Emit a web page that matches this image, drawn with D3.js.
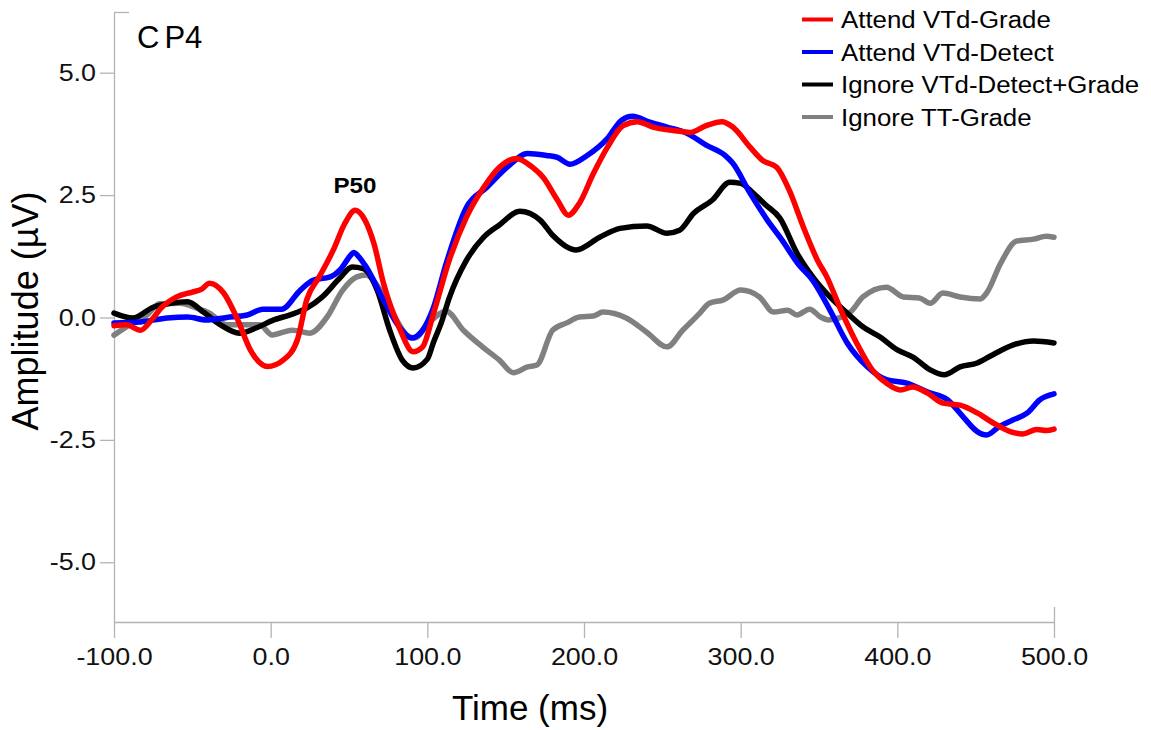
<!DOCTYPE html>
<html>
<head>
<meta charset="utf-8">
<script src="https://cdn.jsdelivr.net/npm/d3@7"></script>
<style>
  html, body { margin: 0; padding: 0; background: #fff; }
  svg { display: block; font-family: "Liberation Sans", Arial, sans-serif; }
</style>
</head>
<body>
<svg id="chart" width="1151" height="730"></svg>
<script>
// ---- data (time in ms, amplitude in µV) ----
const seriesNames = ["Attend VTd-Grade", "Attend VTd-Detect", "Ignore VTd-Detect+Grade", "Ignore TT-Grade"];
const seriesColors = ["#ff0000", "#0000ff", "#000000", "#808080"];

const attendGrade = [[-100,-0.17],[-92,-0.15],[-83,-0.26],[-76,-0.05],[-70,0.19],[-60,0.42],[-50,0.52],[-44,0.58],[-39,0.70],[-30,0.5],[-21,-0.05],[-13,-0.66],[-2,-1.0],[8,-0.87],[17,-0.46],[23,0.36],[31,0.83],[40,1.38],[47,1.9],[54,2.19],[60,2.0],[66,1.5],[72,0.70],[82,-0.2],[91,-0.70],[97,-0.6],[104,0.09],[114,1.17],[125,2.05],[136,2.66],[146,3.07],[157,3.25],[167,3.07],[174,2.86],[183,2.40],[190,2.09],[197,2.33],[206,2.94],[215,3.48],[225,3.92],[234,4.0],[244,3.89],[257,3.82],[268,3.78],[278,3.92],[288,4.0],[295,3.89],[306,3.48],[314,3.21],[323,3.07],[331,2.6],[340,1.85],[349,1.17],[355,0.83],[364,0.15],[374,-0.52],[384,-1.07],[393,-1.34],[402,-1.48],[410,-1.42],[419,-1.54],[429,-1.75],[440,-1.79],[451,-1.95],[461,-2.15],[472,-2.33],[480,-2.38],[489,-2.29],[495,-2.31],[500,-2.28]];

const attendDetect = [[-100,-0.11],[-83,-0.09],[-66,-0.01],[-53,0.01],[-41,-0.05],[-28,0],[-15,0.05],[-5,0.17],[7,0.17],[19,0.56],[27,0.76],[38,0.83],[45,1.0],[51,1.27],[53,1.33],[56,1.25],[61,1.03],[72,0.36],[82,-0.19],[90,-0.42],[97,-0.26],[104,0.21],[112,1.1],[125,2.25],[138,2.66],[151,3.07],[164,3.35],[176,3.31],[183,3.27],[191,3.13],[202,3.31],[215,3.66],[224,4.03],[231,4.11],[242,3.99],[253,3.89],[266,3.76],[278,3.52],[290,3.31],[295,3.15],[306,2.54],[317,1.99],[326,1.6],[337,1.08],[346,0.76],[357,0.15],[368,-0.52],[381,-1.01],[393,-1.27],[406,-1.34],[419,-1.52],[432,-1.68],[442,-2.03],[451,-2.33],[457,-2.40],[465,-2.23],[474,-2.09],[483,-1.95],[491,-1.68],[500,-1.56]];

const ignoreDetectGrade = [[-100,0.09],[-88,-0.01],[-75,0.21],[-64,0.29],[-53,0.32],[-43,0.11],[-32,-0.15],[-20,-0.32],[-9,-0.21],[2,-0.05],[12,0.05],[23,0.19],[33,0.42],[44,0.8],[52,1.03],[59,1.0],[68,0.56],[76,-0.26],[84,-0.87],[91,-1.03],[100,-0.85],[104,-0.5],[109,-0.1],[114,0.4],[125,1.17],[136,1.64],[146,1.89],[159,2.17],[172,1.99],[180,1.68],[195,1.38],[210,1.64],[223,1.82],[240,1.87],[253,1.72],[261,1.78],[270,2.13],[282,2.40],[293,2.76],[300,2.74],[308,2.54],[316,2.3],[325,2.03],[336,1.31],[346,0.83],[357,0.42],[368,0.09],[378,-0.19],[389,-0.40],[400,-0.66],[410,-0.81],[421,-1.07],[430,-1.17],[440,-1.01],[451,-0.93],[461,-0.76],[474,-0.56],[487,-0.48],[500,-0.52]];

const ignoreTTGrade = [[-100,-0.36],[-88,-0.11],[-79,0.05],[-71,0.28],[-58,0.29],[-47,0.19],[-39,0.09],[-28,-0.15],[-18,-0.15],[-7,-0.15],[1,-0.36],[8,-0.3],[14,-0.26],[25,-0.32],[36,0.01],[46,0.56],[55,0.83],[61,0.87],[70,0.56],[78,0.09],[87,-0.36],[92,-0.42],[101,-0.11],[112,0.13],[123,-0.26],[136,-0.62],[146,-0.87],[155,-1.13],[164,-1.01],[170,-0.97],[180,-0.26],[189,-0.11],[197,0.01],[206,0.03],[212,0.11],[227,-0.01],[240,-0.30],[253,-0.60],[263,-0.26],[274,0.09],[280,0.29],[289,0.36],[300,0.56],[312,0.42],[321,0.11],[330,0.15],[336,0.05],[344,0.17],[351,0.01],[356,-0.05],[370,0.11],[378,0.42],[393,0.62],[404,0.42],[414,0.40],[421,0.29],[429,0.50],[440,0.42],[453,0.38],[457,0.50],[466,1.11],[476,1.56],[487,1.60],[495,1.66],[500,1.64]];

const timeDomain = [-100, 500];
const ampDomain = [-6.22, 6.24];
const xTickValues = [-100, 0, 100, 200, 300, 400, 500];
const yTickValues = [-5, -2.5, 0, 2.5, 5];

// ---- chart ----
const svg = d3.select("#chart");
const x = d3.scaleLinear().domain(timeDomain).range([114, 1054]);
const y = d3.scaleLinear().domain(ampDomain).range([622, 12]);
const axisColor = "#b4b4b4";
const locale = d3.formatLocale({decimal: ".", thousands: ",", grouping: [3], currency: ["", ""], minus: "-"});
const fmt = locale.format(".1f");

function stretch(sel, f) {
  sel.each(function () {
    const w = this.getComputedTextLength();
    this.setAttribute("textLength", w * f);
    this.setAttribute("lengthAdjust", "spacingAndGlyphs");
  });
}

const gx = svg.append("g")
  .attr("transform", `translate(0,${y.range()[0]})`)
  .call(d3.axisBottom(x).tickValues(xTickValues).tickFormat(fmt).tickSize(16).tickSizeOuter(0).tickPadding(10));
const gy = svg.append("g")
  .attr("transform", `translate(${x.range()[0]},0)`)
  .call(d3.axisLeft(y).tickValues(yTickValues).tickFormat(fmt).tickSize(14).tickSizeOuter(0).tickPadding(4));

[gx, gy].forEach(g => {
  g.select(".domain").attr("stroke", axisColor).attr("stroke-width", 1.3);
  g.selectAll(".tick line").attr("stroke", axisColor).attr("stroke-width", 1.3);
  g.selectAll(".tick text").attr("fill", "#111").style("font-size", "24px").style("font-family", "Liberation Sans, Arial, sans-serif");
});
stretch(gx.selectAll(".tick text"), 1.12);
stretch(gy.selectAll(".tick text"), 1.12);

// inner end ticks
const frame = svg.append("g").attr("stroke", axisColor).attr("stroke-width", 1.3);
frame.append("line")
  .attr("x1", x(timeDomain[0])).attr("x2", x(timeDomain[0]) + 15)
  .attr("y1", y(ampDomain[1]) + 0.5).attr("y2", y(ampDomain[1]) + 0.5);
frame.append("line")
  .attr("x1", x(timeDomain[1]) + 0.5).attr("x2", x(timeDomain[1]) + 0.5)
  .attr("y1", y(ampDomain[0]) - 15).attr("y2", y(ampDomain[0]));

// lines
const line = d3.line()
  .x(d => x(d[0]))
  .y(d => y(d[1]))
  .curve(d3.curveMonotoneX);

const allSeries = [attendGrade, attendDetect, ignoreDetectGrade, ignoreTTGrade];
const drawOrder = [3, 2, 1, 0];
drawOrder.forEach(i => {
  svg.append("path")
    .datum(allSeries[i])
    .attr("fill", "none")
    .attr("stroke", seriesColors[i])
    .attr("stroke-width", 5.5)
    .attr("stroke-linejoin", "round")
    .attr("stroke-linecap", "round")
    .attr("d", line);
});

// labels
svg.append("text")
  .attr("x", 530).attr("y", 720)
  .attr("text-anchor", "middle")
  .style("font-size", "35px").attr("fill", "#000")
  .text("Time (ms)");

svg.append("text")
  .attr("transform", "translate(38,311) rotate(-90)")
  .attr("text-anchor", "middle")
  .style("font-size", "36px").attr("fill", "#000")
  .text("Amplitude (µV)");

const cp = svg.append("text")
  .attr("x", 137).attr("y", 48)
  .style("font-size", "31px").attr("fill", "#000");
cp.append("tspan").text("C");
cp.append("tspan").attr("dx", 5).text("P4");

const p50 = svg.append("text")
  .attr("x", 355).attr("y", 193)
  .attr("text-anchor", "middle")
  .style("font-size", "22px").style("font-weight", "bold").attr("fill", "#000")
  .text("P50");
stretch(p50, 1.1);

// legend
const legend = svg.append("g");
seriesNames.forEach((name, i) => {
  const cy = 19.5 + i * 32.5;
  legend.append("line")
    .attr("x1", 802).attr("x2", 833)
    .attr("y1", cy).attr("y2", cy)
    .attr("stroke", seriesColors[i]).attr("stroke-width", 4);
  const t = legend.append("text")
    .attr("x", 841).attr("y", cy + 8.5)
    .style("font-size", "23.5px").attr("fill", "#000")
    .text(name);
  stretch(t, 1.1);
});
</script>
</body>
</html>
